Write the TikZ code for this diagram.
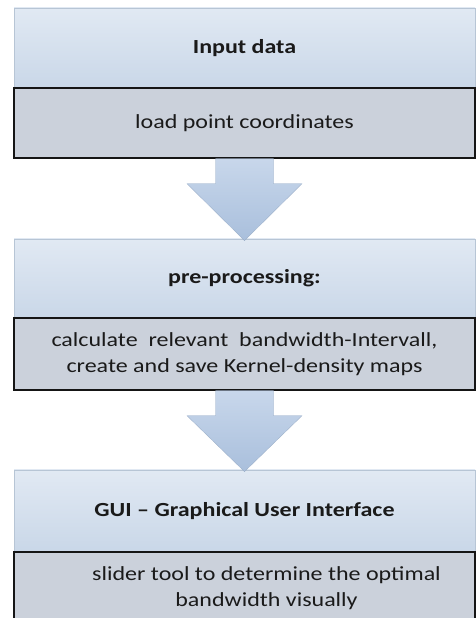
\documentclass[tikz,border=0pt]{standalone}
\usepackage{fontspec}
\setmainfont{Carlito}[FakeStretch=1.2]
\usetikzlibrary{calc}

\definecolor{headtop}{HTML}{E1E9F3}
\definecolor{headbot}{HTML}{C9D7E8}
\definecolor{headline}{HTML}{B7C5D5}
\definecolor{detailfill}{HTML}{CBD1DB}
\definecolor{detailline}{HTML}{151515}
\definecolor{arrtop}{HTML}{C8D7EB}
\definecolor{arrbot}{HTML}{A9BFDC}
\definecolor{txt}{HTML}{1A1A1A}

\tikzset{
  headbox/.style={rectangle, minimum width=461pt, inner sep=0pt,
    top color=headtop, bottom color=headbot, draw=headline, line width=0.8pt,
    font=\fontsize{20}{26}\selectfont\bfseries, text=txt},
  detailbox/.style={rectangle, minimum width=461pt, inner sep=0pt,
    fill=detailfill, draw=detailline, line width=1.4pt,
    font=\fontsize{20}{26}\selectfont, text=txt, align=center},
  flowarrow/.style={top color=arrtop, bottom color=arrbot, draw=arrbot!90!black, line width=0.3pt}
}

\begin{document}
\begin{tikzpicture}[x=1pt, y=1pt]
  \useasboundingbox (0,0) rectangle (476,618);
  \clip (0,0) rectangle (476,618);
  \fill[white] (0,0) rectangle (476,618);

  % stage 1
  \node[headbox, minimum height=80pt] (h1) at (244.5,570) {Input data};
  \node[detailbox, minimum height=70pt] (d1) at (244.5,495) {load point coordinates};

  % stage 2
  \node[headbox, minimum height=79pt] (h2) at (244.5,339.5) {pre-processing:};
  \node[detailbox, minimum height=72pt] (d2) at (244.5,264)
    {calculate\ \ relevant\ \ bandwidth-Intervall,\\create and save Kernel-density maps};

  % stage 3
  \node[headbox, minimum height=82pt] (h3) at (244.5,107) {GUI -- Graphical User Interface};
  \node[detailbox, minimum height=72pt] (d3) at (244.5,30)
    {\hspace*{44pt}\begin{tabular}{@{}c@{}}slider tool to determine the optimal\\ bandwidth visually\end{tabular}};

  % block arrows between the stages
  \foreach \src/\dst in {d1/h2, d2/h3} {
    \path[flowarrow]
      ($(\src.south)+(-29,0)$) -- ($(\src.south)+(29,0)$) --
      ($(\src.south)+(29,-25)$) -- ($(\src.south)+(57.5,-25)$) --
      ($(\dst.north)+(0,-2)$) --
      ($(\src.south)+(-57.5,-25)$) -- ($(\src.south)+(-29,-25)$) -- cycle;
  }
\end{tikzpicture}
\end{document}
